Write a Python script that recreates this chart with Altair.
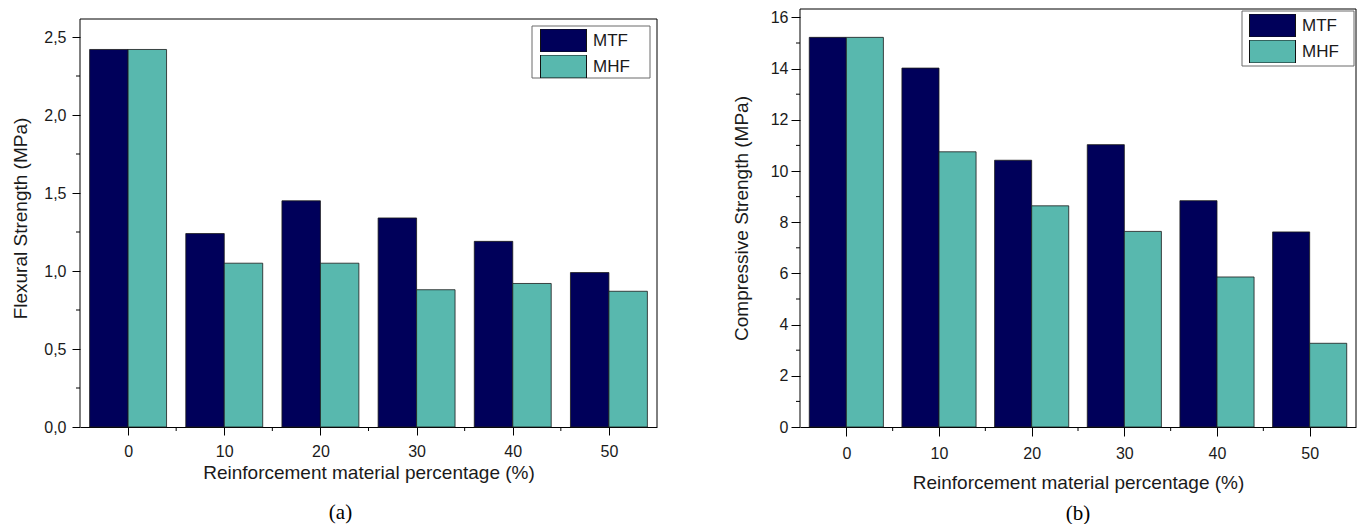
import altair as alt
import pandas as pd

# ---- data ----
pct = [0, 10, 20, 30, 40, 50]
series = ["MTF", "MHF"]
flex_mtf = [2.42, 1.24, 1.45, 1.34, 1.19, 0.99]
flex_mhf = [2.42, 1.05, 1.05, 0.88, 0.92, 0.87]
comp_mtf = [15.22, 14.02, 10.42, 11.03, 8.84, 7.62]
comp_mhf = [15.22, 10.75, 8.64, 7.64, 5.86, 3.27]

x_minor = [5, 15, 25, 35, 45]
flex_ticks = [0.0, 0.5, 1.0, 1.5, 2.0, 2.5]
flex_minor = [0.25, 0.75, 1.25, 1.75, 2.25]
comp_ticks = [0, 2, 4, 6, 8, 10, 12, 14, 16]
comp_minor = [1, 3, 5, 7, 9, 11, 13, 15]

colors = ["#00005a", "#58b8ae"]
FONT = "Liberation Sans"
TXT = "#1a1a1a"


def long_table(mtf, mhf):
    rows = []
    for p, a, b in zip(pct, mtf, mhf):
        rows.append({"pct": p, "series": "MTF", "value": a})
        rows.append({"pct": p, "series": "MHF", "value": b})
    return pd.DataFrame(rows)


def panel(df, ytitle, ydomain, yticks, yminor, ylabel_expr, W, H, frame_top,
          legend_xy, box, x_tick, x_lpad, x_tpad, y_tick, y_lpad, y_tpad,
          tag, tag_dx, tag_offset):
    xscale = alt.Scale(domain=[-5, 55], nice=False, zero=False)
    yscale = alt.Scale(domain=ydomain, nice=False, zero=True)
    bars = alt.Chart(df).transform_calculate(
        x0="datum.pct + (datum.series == 'MTF' ? -4 : 0)",
        x1="datum.pct + (datum.series == 'MTF' ? 0 : 4)",
    ).mark_bar(stroke="#1a1a1a", strokeWidth=0.8).encode(
        x=alt.X("x0:Q", scale=xscale,
                axis=alt.Axis(values=pct, format="d",
                              title="Reinforcement material percentage (%)",
                              tickSize=x_tick, labelPadding=x_lpad,
                              titlePadding=x_tpad, grid=False)),
        x2="x1:Q",
        y=alt.Y("value:Q", scale=yscale,
                axis=alt.Axis(values=yticks, labelExpr=ylabel_expr,
                              title=ytitle, tickSize=y_tick,
                              labelPadding=y_lpad, titlePadding=y_tpad,
                              domain=False, grid=False)),
        y2=alt.Y2(datum=0),
        color=alt.Color(
            "series:N",
            scale=alt.Scale(domain=series, range=colors),
            legend=alt.Legend(
                title=None, orient="none",
                legendX=legend_xy[0], legendY=legend_xy[1],
                symbolType="M-1,-0.5H1V0.5H-1Z", symbolSize=2116,
                symbolStrokeColor="#111111", symbolStrokeWidth=1,
                symbolOpacity=1, clipHeight=23, rowPadding=3,
                labelFont=FONT, labelFontSize=17, labelColor=TXT,
                labelOffset=6, padding=0,
            ),
        ),
    )
    # minor ticks share the field names of the bar layer so axes merge cleanly
    xmin = alt.Chart(pd.DataFrame({"x0": x_minor})).mark_rule(
        color="black", strokeWidth=1).encode(
        x=alt.X("x0:Q", scale=xscale),
        y=alt.value(H), y2=alt.value(H + 4))
    ymin = alt.Chart(pd.DataFrame({"value": yminor})).mark_rule(
        color="black", strokeWidth=1).encode(
        y=alt.Y("value:Q", scale=yscale),
        x=alt.value(0), x2=alt.value(-4))
    one = pd.DataFrame({"d": [0]})
    top_line = alt.Chart(one).mark_rule(color="black", strokeWidth=1).encode(
        x=alt.value(0), x2=alt.value(W), y=alt.value(frame_top))
    left_line = alt.Chart(one).mark_rule(color="black", strokeWidth=1).encode(
        x=alt.value(0), y=alt.value(frame_top), y2=alt.value(H))
    right_line = alt.Chart(one).mark_rule(color="black", strokeWidth=1).encode(
        x=alt.value(W), y=alt.value(frame_top), y2=alt.value(H))
    legend_box = alt.Chart(one).mark_rect(
        filled=False, stroke="#6a6a6a", strokeWidth=1).encode(
        x=alt.value(box[0]), x2=alt.value(box[1]),
        y=alt.value(box[2]), y2=alt.value(box[3]))
    return alt.layer(bars, xmin, ymin, top_line, left_line, right_line,
                     legend_box).properties(
        width=W, height=H,
        title=alt.TitleParams(tag, orient="bottom", anchor="middle",
                              font="Liberation Serif", fontSize=21,
                              fontWeight="normal", color="black",
                              offset=tag_offset, dx=tag_dx),
    )


H = 418
left = panel(
    long_table(flex_mtf, flex_mhf), "Flexural Strength (MPa)",
    [0, H / 156.0], flex_ticks, flex_minor,
    "replace(format(datum.value, '.1f'), '.', ',')",
    W=577, H=H, frame_top=10, legend_xy=(460, 20), box=(452, 570, 17, 69),
    x_tick=8, x_lpad=8, x_tpad=4, y_tick=8, y_lpad=6, y_tpad=13,
    tag="(a)", tag_dx=-28, tag_offset=20)

right = panel(
    long_table(comp_mtf, comp_mhf), "Compressive Strength (MPa)",
    [0, H / 25.6], comp_ticks, comp_minor,
    "format(datum.value, 'd')",
    W=556, H=H, frame_top=0, legend_xy=(449, 5), box=(442, 554, 2, 57),
    x_tick=9, x_lpad=9, x_tpad=12, y_tick=9, y_lpad=3, y_tpad=19,
    tag="(b)", tag_dx=0, tag_offset=11)

chart = alt.hconcat(left, right, spacing=74).resolve_scale(
    color="independent"
).resolve_legend(
    color="independent"
).properties(
    padding={"left": 3, "top": 0, "right": 0, "bottom": 0}
).configure_view(stroke=None).configure_axis(
    labelFont=FONT, labelFontSize=16, labelColor=TXT,
    titleFont=FONT, titleFontSize=19, titleFontWeight="normal", titleColor=TXT,
    domainColor="black", tickColor="black", domainWidth=1, tickWidth=1,
)

chart.save("out.html", embed_options={"renderer": "svg", "actions": False})
